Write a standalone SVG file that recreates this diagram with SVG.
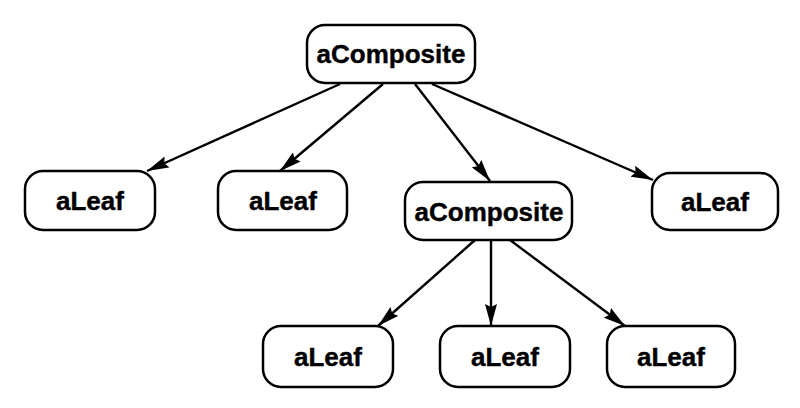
<svg xmlns="http://www.w3.org/2000/svg" width="800" height="408" viewBox="0 0 800 408">
  <defs>
    <marker id="arrow" viewBox="0 0 22 12" refX="22" refY="6" markerWidth="22" markerHeight="12" markerUnits="userSpaceOnUse" orient="auto">
      <path d="M0,0 L22,6 L0,12 L3,6 Z" fill="#000"/>
    </marker>
    <style>
      .box { fill: #fff; stroke: #000; stroke-width: 2.5; }
      .label { font-family: "Liberation Sans", Arial, sans-serif; font-weight: bold; font-size: 26px; fill: #000; text-anchor: middle; stroke: #000; stroke-width: 0.4; }
      .edge { stroke: #000; stroke-width: 2.4; fill: none; marker-end: url(#arrow); }
    </style>
  </defs>
  <rect width="800" height="408" fill="#fff"/>

  <g id="connectors">
    <line class="edge" x1="340" y1="84" x2="147" y2="171"/>
    <line class="edge" x1="383" y1="84" x2="280" y2="171"/>
    <line class="edge" x1="415" y1="84" x2="490" y2="181"/>
    <line class="edge" x1="432" y1="84" x2="653" y2="180"/>
    <line class="edge" x1="475" y1="240" x2="378" y2="326"/>
    <line class="edge" x1="491" y1="240" x2="491" y2="326"/>
    <line class="edge" x1="510" y1="240" x2="625" y2="326"/>
  </g>

  <g id="composite-root">
    <rect class="box" x="307" y="25" width="168" height="58" rx="18"/>
    <text class="label" x="391" y="63">aComposite</text>
  </g>
  <g id="leaf-1">
    <rect class="box" x="25" y="171" width="130" height="59" rx="18"/>
    <text class="label" x="90" y="210">aLeaf</text>
  </g>
  <g id="leaf-2">
    <rect class="box" x="218" y="171" width="129" height="59" rx="18"/>
    <text class="label" x="283" y="210">aLeaf</text>
  </g>
  <g id="composite-child">
    <rect class="box" x="405" y="182" width="167" height="58" rx="18"/>
    <text class="label" x="489" y="221">aComposite</text>
  </g>
  <g id="leaf-3">
    <rect class="box" x="652" y="173" width="126" height="57" rx="18"/>
    <text class="label" x="715" y="211">aLeaf</text>
  </g>
  <g id="leaf-4">
    <rect class="box" x="263" y="326" width="130" height="61" rx="18"/>
    <text class="label" x="328" y="366">aLeaf</text>
  </g>
  <g id="leaf-5">
    <rect class="box" x="440" y="326" width="130" height="61" rx="18"/>
    <text class="label" x="505" y="366">aLeaf</text>
  </g>
  <g id="leaf-6">
    <rect class="box" x="607" y="326" width="128" height="61" rx="18"/>
    <text class="label" x="671" y="366">aLeaf</text>
  </g>
</svg>
